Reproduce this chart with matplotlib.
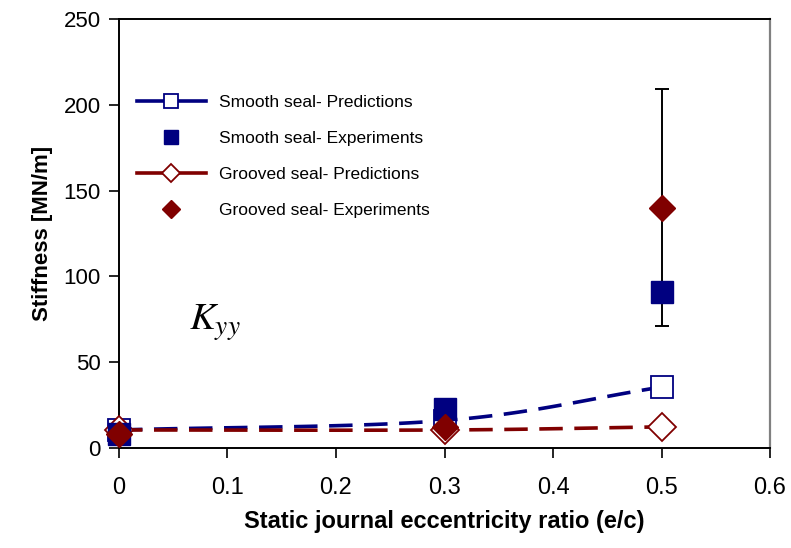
import matplotlib
matplotlib.use("Agg")
import matplotlib.pyplot as plt
from matplotlib.lines import Line2D
import numpy as np

# Kyy stiffness vs static eccentricity ratio
ecc = [0.0, 0.3, 0.5]
smooth_pred = [10.5, 16.0, 35.5]
smooth_exp = [8.0, 23.0, 91.0]
grooved_pred = [10.5, 10.5, 12.3]
grooved_exp = [8.0, 12.0, 140.0]
grooved_err = [0.0, 0.0, 69.0]

navy = '#000080'
maroon = '#800000'

plt.rcParams['font.family'] = 'Liberation Sans'
plt.rcParams['mathtext.fontset'] = 'stix'


def smooth_curve(x, y, n=40):
    # Catmull-Rom style smoothing, like a spreadsheet "smoothed line"
    x = np.asarray(x, float)
    y = np.asarray(y, float)
    px = np.concatenate([[2 * x[0] - x[1]], x, [2 * x[-1] - x[-2]]])
    py = np.concatenate([[2 * y[0] - y[1]], y, [2 * y[-1] - y[-2]]])
    xs, ys = [], []
    for i in range(1, len(px) - 2):
        t = np.linspace(0, 1, n)
        for p, out in ((px, xs), (py, ys)):
            p0, p1, p2, p3 = p[i - 1], p[i], p[i + 1], p[i + 2]
            m1 = (p2 - p0) / 6.0
            m2 = (p3 - p1) / 6.0
            out.extend((1 - t) ** 3 * p1 + 3 * (1 - t) ** 2 * t * (p1 + m1)
                       + 3 * (1 - t) * t ** 2 * (p2 - m2) + t ** 3 * p2)
    return np.array(xs), np.array(ys)


fig = plt.figure(figsize=(7.91, 5.48), dpi=100)
ax = fig.add_axes([0.1504, 0.1825, 0.8231, 0.7828])

lw = 2.6
dash = (6.5, 3.2)
sx, sy = smooth_curve(ecc, smooth_pred)
ax.plot(sx, sy, color=navy, lw=lw, dashes=dash, zorder=2)
gx, gy = smooth_curve(ecc, grooved_pred)
ax.plot(gx, gy, color=maroon, lw=lw, dashes=dash, zorder=2)

# error bar only where a spread was measured
err = np.array(grooved_err)
m = err > 0
ax.errorbar(np.array(ecc)[m], np.array(grooved_exp)[m], yerr=err[m], fmt='none',
            ecolor='black', elinewidth=1.4, capsize=5, capthick=1.4, zorder=3)

# markers
ax.plot(ecc, smooth_pred, ls='none', marker='s', ms=15.5, mfc='white', mec=navy,
        mew=1.3, clip_on=False, zorder=4)
ax.plot(ecc, smooth_exp, ls='none', marker='s', ms=15.5, mfc=navy, mec=navy,
        clip_on=False, zorder=5)
ax.plot(ecc, grooved_pred, ls='none', marker='D', ms=14.5, mfc='white', mec=maroon,
        mew=1.3, clip_on=False, zorder=4)
ax.plot(ecc, grooved_exp, ls='none', marker='D', ms=13.5, mfc=maroon, mec=maroon,
        clip_on=False, zorder=6)

# legend handles with solid line through the marker
lh1 = Line2D([], [], color=navy, lw=lw, marker='s', ms=10.5, mfc='white', mec=navy, mew=1.3)
lh2 = Line2D([], [], ls='none', marker='s', ms=10.5, mfc=navy, mec=navy)
lh3 = Line2D([], [], color=maroon, lw=lw, marker='D', ms=9.5, mfc='white', mec=maroon, mew=1.3)
lh4 = Line2D([], [], ls='none', marker='D', ms=9.5, mfc=maroon, mec=maroon)
ax.legend([lh1, lh2, lh3, lh4],
          ['Smooth seal- Predictions', 'Smooth seal- Experiments',
           'Grooved seal- Predictions', 'Grooved seal- Experiments'],
          loc='upper left', bbox_to_anchor=(0.003, 0.86), frameon=False,
          fontsize=12.5, handlelength=4.0, handletextpad=0.75, labelspacing=1.2)

ax.text(0.108, 0.275, r'$K_{yy}$', transform=ax.transAxes, fontsize=28)

ax.set_xlim(0, 0.6)
ax.set_ylim(0, 250)
ax.set_xticks([0, 0.1, 0.2, 0.3, 0.4, 0.5, 0.6])
ax.set_xticklabels(['0', '0.1', '0.2', '0.3', '0.4', '0.5', '0.6'])
ax.set_yticks([0, 50, 100, 150, 200, 250])
ax.tick_params(axis='x', direction='out', length=7, width=1.2, labelsize=17, pad=14)
ax.tick_params(axis='y', direction='out', length=7, width=1.2, labelsize=16, pad=6)
for side in ['left', 'bottom', 'top']:
    ax.spines[side].set_linewidth(1.4)
ax.spines['right'].set_color('#808080')
ax.spines['right'].set_linewidth(1.6)

ax.set_xlabel('Static journal eccentricity ratio (e/c)', fontsize=17, fontweight='bold', labelpad=8)
ax.set_ylabel('Stiffness [MN/m]', fontsize=16, fontweight='bold', labelpad=8)

fig.savefig('out.png', dpi=100)
